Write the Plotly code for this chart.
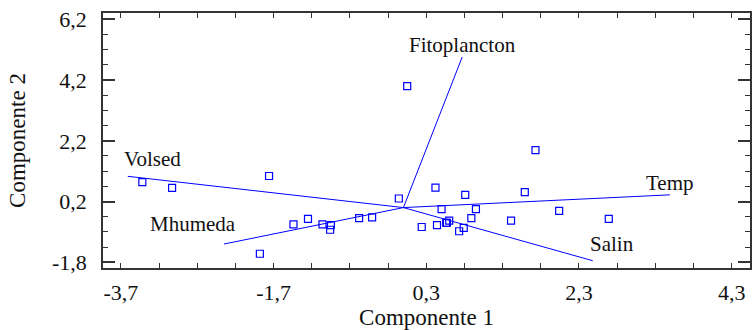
import plotly.graph_objects as go

# Observation scores (Componente 1, Componente 2)
score_x = [-3.42, -3.03, -1.76, -1.88, -1.44, -1.25, -1.06, -0.95, -0.96, -0.58,
           -0.41, -0.06, 0.24, 0.42, 0.81, 1.59, 1.73, 0.50, 0.95, 0.89,
           0.60, 0.56, 0.57, 0.44, 0.79, 0.73, 1.41, 2.04, 2.69, 0.05]
score_y = [0.84, 0.65, 1.04, -1.52, -0.55, -0.37, -0.55, -0.58, -0.73, -0.35,
           -0.32, 0.30, -0.64, 0.66, 0.42, 0.51, 1.89, -0.05, -0.05, -0.35,
           -0.43, -0.50, -0.50, -0.58, -0.67, -0.78, -0.43, -0.11, -0.37, 4.00]

# Variable loadings (vector end points)
var_names = ["Fitoplancton", "Volsed", "Mhumeda", "Temp", "Salin"]
var_x = [0.77, -3.61, -2.35, 3.49, 2.48]
var_y = [4.96, 1.03, -1.20, 0.42, -1.75]

x_tick_vals = [-3.7, -1.7, 0.3, 2.3, 4.3]
x_tick_text = ["-3,7", "-1,7", "0,3", "2,3", "4,3"]
y_tick_vals = [-1.8, 0.2, 2.2, 4.2, 6.2]
y_tick_text = ["-1,8", "0,2", "2,2", "4,2", "6,2"]

# label pixel offsets relative to vector ends
label_shift = {"Fitoplancton": (0, 12), "Volsed": (25, 17), "Mhumeda": (-31, 20),
               "Temp": (0, 12), "Salin": (19, 17)}

BLUE = "#0000ff"
FONT = "Liberation Serif"

fig = go.Figure()
for name, xe, ye in zip(var_names, var_x, var_y):
    fig.add_trace(go.Scatter(x=[0, xe], y=[0, ye], mode="lines",
                             line=dict(color=BLUE, width=1), showlegend=False,
                             hoverinfo="skip"))
    dx, dy = label_shift[name]
    fig.add_annotation(x=xe, y=ye, text=name, showarrow=False, xshift=dx, yshift=dy,
                       font=dict(family=FONT, size=21, color="#111"),
                       xanchor="center", yanchor="middle")

fig.add_trace(go.Scatter(x=score_x, y=score_y, mode="markers",
                         marker=dict(symbol="square-open", size=7, color=BLUE,
                                     line=dict(width=1.2, color=BLUE)),
                         showlegend=False))

axis_common = dict(showgrid=False, zeroline=False, showline=True, linecolor="#333",
                   linewidth=1.5, mirror="ticks", ticks="inside", tickcolor="#333",
                   tickfont=dict(family=FONT, size=22, color="#111"))

fig.update_xaxes(range=[-3.935, 4.54], tickmode="array", tickvals=x_tick_vals,
                 ticktext=x_tick_text, ticklen=5, tickwidth=1.2, ticklabelstandoff=4,
                 minor=dict(dtick=0.5, tick0=0.3, ticks="inside", ticklen=5,
                            tickcolor="#333", tickwidth=1.2),
                 title=dict(text="Componente 1", font=dict(family=FONT, size=23, color="#111"),
                            standoff=4),
                 **axis_common)
fig.update_yaxes(range=[-1.99, 6.41], tickmode="array", tickvals=y_tick_vals,
                 ticktext=y_tick_text, ticklen=12, tickwidth=1.5, ticklabelstandoff=10,
                 minor=dict(dtick=0.5, tick0=0.2, ticks="inside", ticklen=5,
                            tickcolor="#333", tickwidth=1.2),
                 title=dict(text="Componente 2", font=dict(family=FONT, size=23, color="#111"),
                            standoff=20),
                 **axis_common)

fig.update_layout(width=753, height=330, margin=dict(l=103, r=1, t=13, b=62),
                  plot_bgcolor="white", paper_bgcolor="white")

fig.write_html("out.html")
